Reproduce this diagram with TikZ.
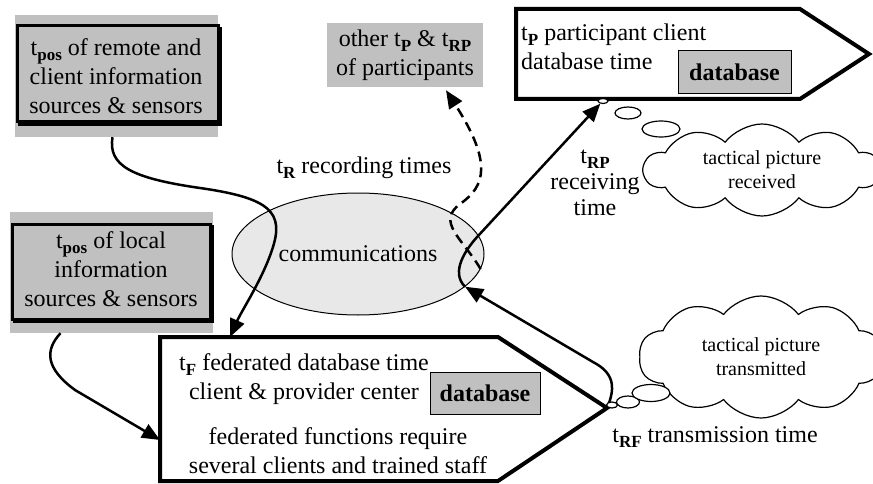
\documentclass[tikz,border=0pt]{standalone}
\usepackage{fontspec}
\setmainfont{Liberation Serif}
\usetikzlibrary{arrows.meta,shapes.geometric,shapes.symbols}
\definecolor{boxgray}{HTML}{C0C0C0}
\definecolor{commgray}{HTML}{E8E8E8}
\newcommand\bigtxt{\fontsize{24}{29}\selectfont}
\newcommand\smalltxt{\fontsize{20}{24}\selectfont}
\newcommand\tsb[1]{t\raisebox{-5pt}{\fontsize{17}{17}\selectfont\bfseries #1}}
\begin{document}
\begin{tikzpicture}[x=1pt,y=-1pt,
  every node/.style={font=\bigtxt},
  graybg/.style={fill=boxgray, inner sep=0pt, align=center},
  blackframe/.style={draw, line width=3pt},
  shadowedge/.style={draw, line width=2.5pt},
  pent/.style={draw, line width=4pt, fill=white, line join=miter},
  dbbox/.style={draw, line width=1pt, fill=boxgray, font=\bigtxt\bfseries, inner sep=0pt},
  conn/.style={line width=2.5pt, -{Triangle[length=18pt,width=15pt]}},
  dconn/.style={conn, dash pattern=on 10pt off 6pt},
  bubble/.style={draw, ellipse, line width=1.2pt, fill=white, inner sep=0pt},
  thought/.style={cloud, draw, line width=1.2pt, fill=white, cloud puffs=10, cloud puff arc=105, cloud ignores aspect, align=center, font=\smalltxt, inner sep=0pt},
  lbl/.style={align=center, inner sep=0pt}
]
\useasboundingbox (0,0) rectangle (873,484);

% communications ellipse
\node[ellipse, draw, line width=1pt, fill=commgray, minimum width=252pt, minimum height=122pt, inner sep=0pt] (comm) at (358,254) {communications};

% remote sources box
\node[graybg, minimum width=203pt, minimum height=122pt] (remote) at (116.5,76) {};
\draw[blackframe] (17,26) rectangle (218,122);
\draw[shadowedge] (220.5,27) -- (220.5,124.5) -- (18,124.5);
\node[lbl] (remotetxt) at (116,76) {\tsb{pos} of remote and\\client information\\sources \& sensors};

% local sources box
\node[graybg, minimum width=203pt, minimum height=121pt] (local) at (111.5,272.5) {};
\draw[blackframe] (12,224) rectangle (210,319);
\draw[shadowedge] (212.5,225) -- (212.5,321.5) -- (13,321.5);
\node[lbl] (localtxt) at (111,269) {\tsb{pos} of local\\information\\sources \& sensors};

% other participants
\node[graybg, minimum width=156pt, minimum height=64pt] (other) at (405,55) {other \tsb{P} \& \tsb{RP}\\of participants};

% participant pentagon
\draw[pent] (516,9) -- (800,9) -- (869,54) -- (800,99) -- (516,99) -- cycle;
\node[lbl, anchor=west, align=left] (ptxt) at (521,47) {\tsb{P} participant client\\database time};
\node[dbbox, minimum width=113pt, minimum height=43pt] (pdb) at (734.5,72.5) {database};

% federated pentagon
\draw[pent] (160,337) -- (498,337) -- (607,408) -- (498,481) -- (160,481) -- cycle;
\coordinate (fTop) at (230,337);
\coordinate (fLeft) at (160,440);
\coordinate (fTip) at (607,408);
\node[lbl] (ftxt1) at (304,379) {\tsb{F} federated database time\\client \& provider center};
\node[lbl] (ftxt2) at (338,451) {federated functions require\\several clients and trained staff};
\node[dbbox, minimum width=110pt, minimum height=42pt] (fdb) at (485,393) {database};

% labels
\node[lbl] (tR) at (364,168) {\tsb{R} recording times};
\node[lbl, font=\fontsize{24}{26}\selectfont] (tRP) at (595,183) {\tsb{RP}\\receiving\\time};
\node[lbl] (tRF) at (715,437) {\tsb{RF} transmission time};

% clouds
\node[thought, minimum width=236pt, minimum height=92pt] (crec) at (762,170) {tactical picture\\received};
\node[thought, minimum width=244pt, minimum height=122pt] (ctrans) at (761,357) {tactical picture\\transmitted};

% connectors
\draw[conn] ([xshift=-4pt]remote.south) .. controls (108,165) and (130,178) .. (200,188)
  .. controls (270,198) and (285,212) .. (272,250)
  .. controls (262,280) and (242,310) .. (fTop);
\draw[conn] ([xshift=-51pt]local.south) .. controls (45,350) and (45,368) .. (75,390) -- (fLeft);
\draw[conn] (fTip) .. controls (617,385) and (612,372) .. (593,362) -- (comm.-17);

% bubbles
\node[bubble, minimum width=10pt, minimum height=5pt] (pb1) at (603,101) {};
\node[bubble, minimum width=26pt, minimum height=12pt] (pb2) at (628,113) {};
\node[bubble, minimum width=38pt, minimum height=16pt] (pb3) at (661,129) {};
\node[bubble, minimum width=11pt, minimum height=6pt] (fb1) at (612,405) {};
\node[bubble, minimum width=23pt, minimum height=12pt] (fb2) at (628,402) {};
\node[bubble, minimum width=38pt, minimum height=17pt] (fb3) at (651,393) {};

\draw[conn] (comm.-17) .. controls (450,272) and (466,249) .. (478,236) -- (pb1.-135);
\draw[dconn] (comm.-7) .. controls (462,238) and (436,222) .. (460,204)
  .. controls (486,186) and (492,162) .. ([xshift=41pt,yshift=-3pt]other.south);
\end{tikzpicture}
\end{document}
